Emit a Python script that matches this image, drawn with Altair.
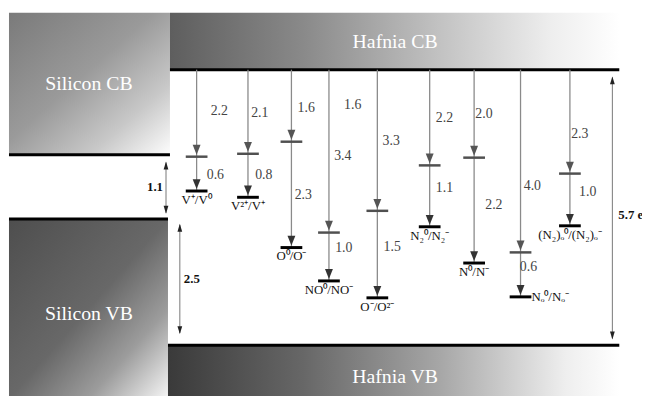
import altair as alt
import pandas as pd

# ---------------- data ----------------
# energy axis: 0 = hafnia conduction band edge, -5.7 = hafnia valence band edge (schematic)
band_names = ["Silicon CB", "Silicon VB", "Hafnia CB", "Hafnia VB"]
band_x0 = [9, 9, 172, 170]
band_x1 = [172, 170, 627, 627]
band_top = [1.18, -3.09, 1.18, -5.70]
band_bot = [-1.76, -6.80, 0.00, -6.80]
band_edge = [-1.76, -3.09, 0.00, -5.70]
band_label_x = [90, 90, 400, 400]
band_label_e = [-0.29, -5.05, 0.57, -6.35]

defects = ["V⁺/V⁰", "V²⁺/V⁺", "O⁰/O⁻", "NO⁰/NO⁻", "O⁻/O²⁻",
           "N₂⁰/N₂⁻", "N⁰/N⁻", "Nₒ⁰/Nₒ⁻", "(N₂)ₒ⁰/(N₂)ₒ⁻"]
defect_x = [199, 251, 295, 333, 382, 435, 480, 527, 577]
upper_e = [-1.80, -1.74, -1.49, -3.37, -2.92, -1.98, -1.82, -3.78, -2.15]
lower_e = [-2.51, -2.64, -3.68, -4.37, -4.72, -3.25, -4.00, -4.70, -3.23]
label_below = [True, True, True, True, True, True, True, False, True]

value_text = ["2.2", "0.6", "2.1", "0.8", "1.6", "2.3", "1.6", "3.4", "1.0", "3.3",
              "1.5", "2.2", "1.1", "2.0", "2.2", "4.0", "0.6", "2.3", "1.0"]
value_x = [222, 218, 263, 267, 310, 307, 357, 347, 348, 396,
           397, 450, 450, 490, 500, 539, 535, 587, 595]
value_e = [-0.86, -2.19, -0.90, -2.19, -0.80, -2.59, -0.74, -1.78, -3.68, -1.47,
           -3.66, -1.00, -2.45, -0.92, -2.80, -2.41, -4.09, -1.33, -2.53]

gap_text = ["1.1", "2.5", "5.7 eV"]
gap_x = [168, 182, 620]
gap_from = [-1.92, -3.21, -0.16]
gap_to = [-2.96, -5.45, -5.56]
gap_label_x = [165, 186, 626]
gap_label_e = [-2.43, -4.33, -3.00]

# ---------------- frames ----------------
bands = pd.DataFrame({"name": band_names, "x0": band_x0, "x1": band_x1,
                      "top": band_top, "bot": band_bot, "edge": band_edge,
                      "lx": band_label_x, "le": band_label_e})
lev = pd.DataFrame({"name": defects, "x": defect_x, "up": upper_e, "lo": lower_e,
                    "below": label_below})
lev["cb"] = 0.0
vals = pd.DataFrame({"t": value_text, "x": value_x, "e": value_e})
gaps = pd.DataFrame({"t": gap_text, "x": gap_x, "a": gap_from, "b": gap_to,
                     "lx": gap_label_x, "le": gap_label_e})

H = 388
K = 48.95
E_TOP = (68 - 8) / K
E_BOT = (68 - (8 + H)) / K
xs = alt.Scale(domain=[8, 650], nice=False, zero=False)
ys = alt.Scale(domain=[E_BOT, E_TOP], nice=False, zero=False)
SERIF = "Liberation Serif"


def X(f):
    return alt.X(f, type="quantitative", scale=xs, axis=None)


def Y(f):
    return alt.Y(f, type="quantitative", scale=ys, axis=None)


def grad(stops, x2=1, y2=0):
    return alt.LinearGradient(gradient="linear", x1=0, y1=0, x2=x2, y2=y2,
                              stops=[alt.GradientStop(offset=o, color=c) for o, c in stops])


grads = {
    "Silicon CB": grad([(0, "#7a7a7a"), (0.45, "#9a9a9a"), (0.75, "#c8c8c8"), (1, "#fdfdfd")], 1, 1),
    "Silicon VB": grad([(0, "#4e4e4e"), (0.5, "#686868"), (0.75, "#9c9c9c"), (1, "#f6f6f6")], 1, 1),
    "Hafnia CB": grad([(0, "#5e5e5e"), (0.3, "#8a8a8a"), (0.6, "#c2c2c2"), (0.85, "#eeeeee"), (1, "#ffffff")]),
    "Hafnia VB": grad([(0, "#3a3a3a"), (0.3, "#676767"), (0.6, "#a6a6a6"), (0.88, "#eeeeee"), (1, "#ffffff")]),
}

base_b = alt.Chart(bands)
layers = []
for nm in band_names:
    layers.append(base_b.transform_filter(alt.datum.name == nm)
                  .mark_rect(color=grads[nm], strokeWidth=0)
                  .encode(x=X("x0"), x2="x1", y=Y("top"), y2="bot"))

edges = base_b.mark_rule(color="#000000", strokeWidth=3).encode(
    x=X("x0"), x2="x1", y=Y("edge"))
band_txt = base_b.mark_text(font=SERIF, fontSize=20, color="#ffffff").encode(
    x=X("lx"), y=Y("le"), text="name:N")

base_l = alt.Chart(lev)
ARROW_DOWN = "M-0.8,-1L0.8,-1L0,1Z"
arrow1 = base_l.mark_rule(color="#8a8a8a", strokeWidth=1.3).encode(
    x=X("x"), y=Y("cb"), y2="up")
arrow2 = base_l.mark_rule(color="#8a8a8a", strokeWidth=1.3).encode(
    x=X("x"), y=Y("up"), y2="lo")
head1 = base_l.mark_point(shape=ARROW_DOWN, filled=True, size=100, color="#555555",
                          opacity=1, yOffset=-7).encode(x=X("x"), y=Y("up"))
head2 = base_l.mark_point(shape=ARROW_DOWN, filled=True, size=100, color="#333333",
                          opacity=1, yOffset=-7).encode(x=X("x"), y=Y("lo"))
bars_up = base_l.transform_calculate(xa="datum.x - 11", xb="datum.x + 11").mark_rule(
    color="#505050", strokeWidth=2.5).encode(x=X("xa"), x2="xb", y=Y("up"))
bars_lo = base_l.transform_calculate(xa="datum.x - 11", xb="datum.x + 11").mark_rule(
    color="#000000", strokeWidth=3).encode(x=X("xa"), x2="xb", y=Y("lo"))
lab_below = base_l.transform_filter(alt.datum.below).mark_text(
    font=SERIF, fontSize=13, color="#111111", baseline="top", dy=3).encode(
    x=X("x"), y=Y("lo"), text="name:N")
lab_right = base_l.transform_filter(~alt.datum.below).mark_text(
    font=SERIF, fontSize=13, color="#111111", align="left", dx=11, baseline="middle").encode(
    x=X("x"), y=Y("lo"), text="name:N")

val_txt = alt.Chart(vals).mark_text(font=SERIF, fontSize=14, color="#444444").encode(
    x=X("x"), y=Y("e"), text="t:N")

base_g = alt.Chart(gaps)
gap_line = base_g.mark_rule(color="#777777", strokeWidth=1).encode(x=X("x"), y=Y("a"), y2="b")
gap_up = base_g.mark_point(shape="M-0.6,1L0.6,1L0,-1Z", filled=True, size=64, color="#222222",
                           opacity=1, yOffset=3).encode(x=X("x"), y=Y("a"))
gap_dn = base_g.mark_point(shape="M-0.6,-1L0.6,-1L0,1Z", filled=True, size=64, color="#222222",
                           opacity=1, yOffset=-3).encode(x=X("x"), y=Y("b"))
gap_lab_l = base_g.transform_filter(alt.datum.t == "1.1").mark_text(
    font=SERIF, fontSize=13, fontWeight="bold", color="#111111", align="right").encode(
    x=X("lx"), y=Y("le"), text="t:N")
gap_lab_r = base_g.transform_filter(alt.datum.t != "1.1").mark_text(
    font=SERIF, fontSize=13, fontWeight="bold", color="#111111", align="left", clip=True).encode(
    x=X("lx"), y=Y("le"), text="t:N")

chart = alt.layer(
    *layers, edges, band_txt,
    arrow1, arrow2, bars_up, bars_lo, head1, head2,
    lab_below, lab_right, val_txt,
    gap_line, gap_up, gap_dn, gap_lab_l, gap_lab_r,
).properties(
    width=642, height=H, padding=0, autosize=alt.AutoSizeParams(type="none"),
    background="#ffffff",
).configure_view(stroke=None)

chart.save("out.html", embed_options={"renderer": "svg", "actions": False})
